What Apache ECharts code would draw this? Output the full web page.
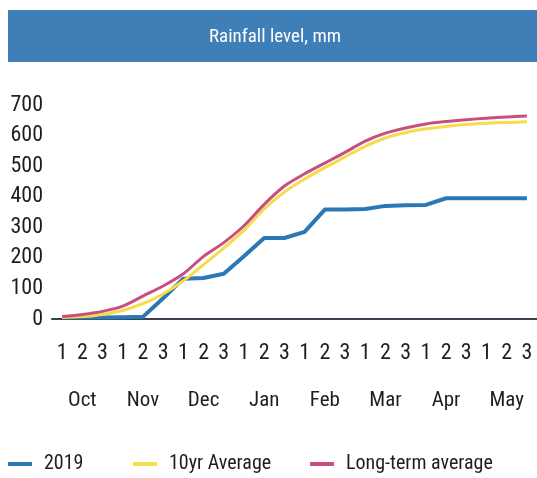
<!DOCTYPE html>
<html><head><meta charset="utf-8">
<script src="https://cdn.jsdelivr.net/npm/echarts@6/dist/echarts.min.js"></script>
<style>html,body{margin:0;padding:0;background:#fff}#c{width:537px;height:478px}</style>
</head><body><div id="c"></div>
<script>
// ---- data ----
const titleText = 'Rainfall level, mm';
const months = ['Oct', 'Nov', 'Dec', 'Jan', 'Feb', 'Mar', 'Apr', 'May'];
const dekads = ['1', '2', '3'];
const seriesNames = ['2019', '10yr Average', 'Long-term average'];
const rain2019 = [5, 5, 5, 6, 7, 68, 132, 134, 148, 205, 265, 265, 285, 358, 358, 360, 370, 372, 373, 395, 395, 395, 395, 395];
const rain10yr = [5, 8, 15, 28, 50, 82, 125, 178, 232, 290, 360, 415, 458, 495, 530, 565, 592, 610, 622, 630, 636, 640, 643, 645];
const rainLongTerm = [8, 15, 25, 42, 75, 108, 148, 205, 250, 305, 375, 435, 475, 510, 545, 582, 608, 625, 638, 646, 652, 657, 661, 664];
const yMin = 0, yMax = 700, yStep = 100;

// ---- build ----
const FONT = '"Roboto Condensed", "DejaVu Sans Condensed", sans-serif';
const categories = [];
months.forEach(m => dekads.forEach(d => categories.push(m + '|' + d)));
const colors = ['#2b78b6', '#f4dc4a', '#c84f7d'];
const dataSets = [rain2019, rain10yr, rainLongTerm];

const chart = echarts.init(document.getElementById('c'), null, {renderer: 'canvas'});
const legendLefts = [8, 133, 310];
chart.setOption({
  animation: false,
  color: colors,
  textStyle: {fontFamily: FONT},
  graphic: [
    {type: 'rect', shape: {x: 8, y: 10, width: 540, height: 52}, style: {fill: '#3f7fb8'}, silent: true},
    {type: 'text', x: 275, y: 37, style: {text: titleText, fill: '#ffffff', font: '19px ' + FONT, textAlign: 'center', textVerticalAlign: 'middle'}, silent: true}
  ],
  legend: seriesNames.map((n, i) => ({
    data: [n], left: legendLefts[i], top: 452, padding: 0,
    icon: 'rect', itemWidth: 24, itemHeight: 4, itemGap: 0,
    textStyle: {fontFamily: FONT, fontSize: 20, color: '#1e1e1e', lineHeight: 24, padding: [0, 0, 0, 7]}
  })),
  grid: {left: 52, right: 0, top: 105, bottom: 159, containLabel: false},
  xAxis: {
    type: 'category', boundaryGap: true, data: categories,
    axisLine: {show: true, lineStyle: {color: '#3a4150', width: 2}},
    axisTick: {show: false},
    splitLine: {show: false},
    axisLabel: {
      interval: 0, margin: 10, color: '#1e1e1e', fontFamily: FONT,
      rich: {
        d: {fontSize: 22, lineHeight: 48, color: '#1e1e1e', fontFamily: FONT},
        m: {fontSize: 21, lineHeight: 48, color: '#1e1e1e', fontFamily: FONT}
      },
      formatter: (v, idx) => {
        const parts = v.split('|');
        return (idx % 3 === 1) ? '{d|' + parts[1] + '}\n{m|' + parts[0] + '}' : '{d|' + parts[1] + '}';
      }
    }
  },
  yAxis: {
    type: 'value', min: yMin, max: yMax, interval: yStep,
    axisLine: {show: false}, axisTick: {show: false},
    splitLine: {show: false},
    axisLabel: {fontSize: 22, color: '#1e1e1e', margin: 9, fontFamily: FONT}
  },
  series: seriesNames.map((n, i) => ({
    name: n, type: 'line', data: dataSets[i], symbol: 'none',
    smooth: i === 0 ? false : 0.3,
    lineStyle: {width: i === 0 ? 4 : 3, color: colors[i]},
    itemStyle: {color: colors[i]},
    z: 2 + i
  }))
});
</script>
</body></html>
